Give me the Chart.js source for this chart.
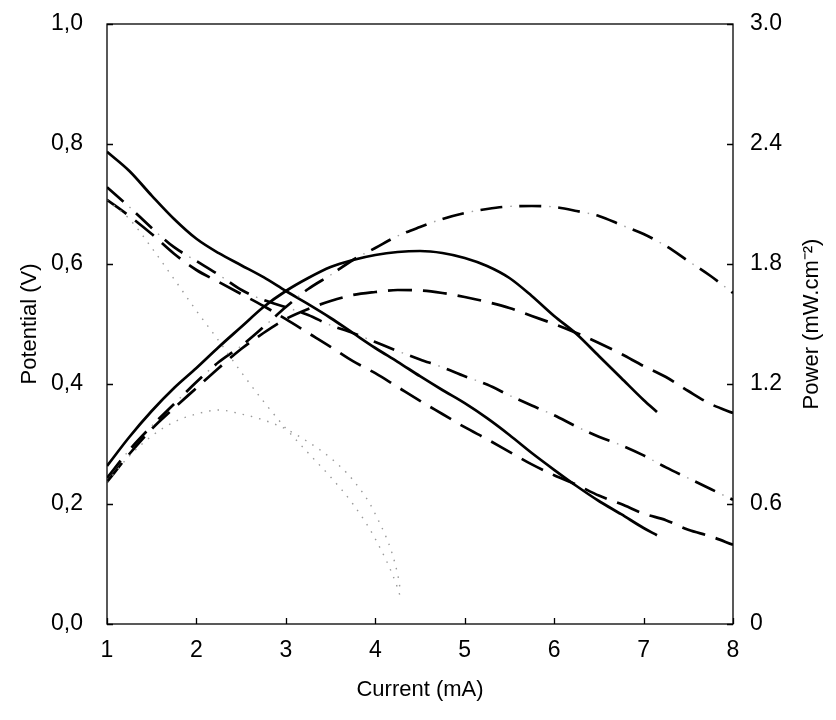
<!DOCTYPE html>
<html>
<head>
<meta charset="utf-8">
<script src="https://cdn.jsdelivr.net/npm/chart.js@4/dist/chart.umd.min.js"></script>
<style>
  html, body { margin: 0; padding: 0; background: #fff; }
  #wrap { width: 836px; height: 720px; }
</style>
</head>
<body>
<div id="wrap"><canvas id="c" width="836" height="720"></canvas></div>
<script>
// ---- data ----
const xTicks = [1, 2, 3, 4, 5, 6, 7, 8];
const potentialTicks = [0, 0.2, 0.4, 0.6, 0.8, 1.0];
const powerTicks = [0, 0.6, 1.2, 1.8, 2.4, 3.0];

// solid series
const currentSolid = [1, 1.25, 1.5, 1.75, 2, 2.25, 2.5, 2.75, 3, 3.25, 3.5, 3.75, 4, 4.25, 4.5, 4.75, 5, 5.25, 5.5, 5.75, 6, 6.25, 6.5, 6.75, 7, 7.15];
const potentialSolid = [0.787, 0.755, 0.714, 0.675, 0.642, 0.618, 0.598, 0.578, 0.555, 0.533, 0.51, 0.485, 0.46, 0.437, 0.413, 0.39, 0.368, 0.343, 0.315, 0.285, 0.257, 0.23, 0.205, 0.183, 0.16, 0.148];
const powerSolid = [0.79, 0.935, 1.065, 1.18, 1.28, 1.385, 1.485, 1.585, 1.665, 1.73, 1.785, 1.82, 1.845, 1.86, 1.865, 1.855, 1.83, 1.79, 1.73, 1.64, 1.54, 1.45, 1.34, 1.23, 1.12, 1.06];

// long-dash series
const currentDash = [1, 1.25, 1.5, 1.75, 2, 2.25, 2.5, 2.75, 3, 3.25, 3.5, 3.75, 4, 4.25, 4.5, 4.75, 5, 5.25, 5.5, 5.75, 6, 6.25, 6.5, 6.75, 7, 7.25, 7.5, 7.75, 8];
const potentialDash = [0.707, 0.68, 0.65, 0.617, 0.59, 0.57, 0.55, 0.53, 0.508, 0.485, 0.462, 0.438, 0.418, 0.395, 0.372, 0.35, 0.328, 0.308, 0.287, 0.266, 0.248, 0.232, 0.214, 0.2, 0.184, 0.173, 0.157, 0.146, 0.132];
const powerDash = [0.71, 0.85, 0.975, 1.08, 1.18, 1.28, 1.375, 1.455, 1.525, 1.575, 1.615, 1.645, 1.66, 1.67, 1.668, 1.655, 1.635, 1.61, 1.58, 1.54, 1.5, 1.455, 1.405, 1.35, 1.29, 1.235, 1.165, 1.1, 1.055];

// dash-dot series
const currentDashDot = [1, 1.25, 1.5, 1.75, 2, 2.25, 2.5, 2.75, 3, 3.25, 3.5, 3.75, 4, 4.25, 4.5, 4.75, 5, 5.25, 5.5, 5.75, 6, 6.25, 6.5, 6.75, 7, 7.25, 7.5, 7.75, 8];
const potentialDashDot = [0.728, 0.695, 0.66, 0.628, 0.605, 0.582, 0.557, 0.54, 0.528, 0.515, 0.498, 0.485, 0.47, 0.455, 0.441, 0.428, 0.413, 0.399, 0.381, 0.364, 0.348, 0.329, 0.312, 0.298, 0.281, 0.261, 0.243, 0.225, 0.207];
const powerDashDot = [0.73, 0.87, 0.99, 1.1, 1.21, 1.31, 1.39, 1.485, 1.585, 1.675, 1.745, 1.82, 1.88, 1.94, 1.985, 2.025, 2.055, 2.075, 2.088, 2.09, 2.085, 2.065, 2.04, 1.995, 1.95, 1.89, 1.815, 1.74, 1.655];

// dotted series
const currentDotted = [1, 1.25, 1.5, 1.75, 2, 2.25, 2.5, 2.75, 3, 3.25, 3.5, 3.75, 4, 4.25, 4.28];
const potentialDotted = [0.707, 0.675, 0.627, 0.575, 0.522, 0.472, 0.42, 0.371, 0.326, 0.285, 0.245, 0.2, 0.142, 0.06, 0.045];
const powerDotted = [0.71, 0.84, 0.94, 1.01, 1.05, 1.07, 1.05, 1.02, 0.975, 0.91, 0.83, 0.72, 0.55, 0.25, 0.17];

// ---- build ----
function pts(xs, ys) { return xs.map((x, i) => ({ x: x, y: ys[i] })); }

const FONT = "'Liberation Sans', Arial, Helvetica, sans-serif";
const TICK_FS = 23;
const TITLE_FS = 22;
const LW = 2.7;

function line(data, axis, style) {
  return Object.assign({
    data: data, yAxisID: axis, borderColor: '#000', borderWidth: LW,
    pointRadius: 0, fill: false, cubicInterpolationMode: 'monotone'
  }, style);
}
const dotted = { borderColor: '#9a9a9a', borderWidth: 1.4, borderDash: [1.5, 7] };
const longDash = { borderDash: [24, 11] };
const ddDash = { borderDash: [22, 17] };
const ddDot = { borderColor: '#a0a0a0', borderWidth: 1.4, borderDash: [1.5, 37.5], borderDashOffset: 9 };

const datasets = [
  line(pts(currentDotted, potentialDotted), 'y', dotted),
  line(pts(currentDotted, powerDotted), 'y1', dotted),
  line(pts(currentDashDot, potentialDashDot), 'y', ddDash),
  line(pts(currentDashDot, potentialDashDot), 'y', ddDot),
  line(pts(currentDashDot, powerDashDot), 'y1', ddDash),
  line(pts(currentDashDot, powerDashDot), 'y1', ddDot),
  line(pts(currentDash, potentialDash), 'y', longDash),
  line(pts(currentDash, powerDash), 'y1', longDash),
  line(pts(currentSolid, potentialSolid), 'y', {}),
  line(pts(currentSolid, powerSolid), 'y1', {})
];

const frameAndTicks = {
  id: 'frameAndTicks',
  afterDatasetsDraw(chart) {
    const ctx = chart.ctx, a = chart.chartArea;
    ctx.save();
    ctx.strokeStyle = '#000';
    ctx.lineWidth = 1.3;
    ctx.strokeRect(a.left, a.top, a.right - a.left, a.bottom - a.top);
    const L = 6;
    ctx.beginPath();
    const sx = chart.scales.x, sy = chart.scales.y, sy1 = chart.scales.y1;
    sx.ticks.forEach(t => { const p = Math.round(sx.getPixelForValue(t.value)) + 0.5; ctx.moveTo(p, a.bottom); ctx.lineTo(p, a.bottom - L); });
    sy.ticks.forEach(t => { const p = Math.round(sy.getPixelForValue(t.value)) + 0.5; ctx.moveTo(a.left, p); ctx.lineTo(a.left + L, p); });
    sy1.ticks.forEach(t => { const p = Math.round(sy1.getPixelForValue(t.value)) + 0.5; ctx.moveTo(a.right, p); ctx.lineTo(a.right - L, p); });
    ctx.stroke();
    // right axis title, reading bottom to top
    ctx.fillStyle = '#000';
    ctx.font = TITLE_FS + 'px ' + FONT;
    ctx.textAlign = 'center';
    ctx.textBaseline = 'middle';
    ctx.translate(812, (a.top + a.bottom) / 2);
    ctx.rotate(-Math.PI / 2);
    ctx.fillText('Power (mW.cm\u207B\u00B2)', 0, 0);
    ctx.restore();
  }
};

function fitVertical(width) {
  return s => { s.width = width; s.paddingTop = 0; s.paddingBottom = 0; };
}

new Chart(document.getElementById('c'), {
  type: 'line',
  data: { datasets: datasets },
  options: {
    responsive: false,
    animation: false,
    events: [],
    layout: { padding: { top: 24, left: 0, right: 0, bottom: 0 } },
    plugins: { legend: { display: false }, tooltip: { enabled: false } },
    scales: {
      x: {
        type: 'linear', min: 1, max: 8,
        afterBuildTicks: s => { s.ticks = xTicks.map(v => ({ value: v })); },
        afterFit: s => { s.height = 96; s.paddingLeft = 0; s.paddingRight = 0; },
        grid: { display: false, drawTicks: false },
        border: { display: false },
        ticks: { color: '#000', font: { family: FONT, size: TICK_FS }, padding: 13, maxRotation: 0 },
        title: { display: true, text: 'Current (mA)', color: '#000', font: { family: FONT, size: TITLE_FS }, padding: { top: 0, bottom: 17 } }
      },
      y: {
        type: 'linear', position: 'left', min: 0, max: 1,
        afterBuildTicks: s => { s.ticks = potentialTicks.map(v => ({ value: v })); },
        afterFit: fitVertical(107),
        grid: { display: false, drawTicks: false },
        border: { display: false },
        ticks: { color: '#000', font: { family: FONT, size: TICK_FS }, padding: 24,
          callback: v => v.toFixed(1).replace('.', ',') },
        title: { display: true, text: 'Potential (V)', color: '#000', font: { family: FONT, size: TITLE_FS }, padding: { top: 17, bottom: 0 } }
      },
      y1: {
        type: 'linear', position: 'right', min: 0, max: 3,
        afterBuildTicks: s => { s.ticks = powerTicks.map(v => ({ value: v })); },
        afterFit: fitVertical(103),
        grid: { display: false, drawTicks: false },
        border: { display: false },
        ticks: { color: '#000', font: { family: FONT, size: TICK_FS }, padding: 17,
          callback: v => (v === 0 ? '0' : v.toFixed(1)) }
      }
    }
  },
  plugins: [frameAndTicks]
});
</script>
</body>
</html>
